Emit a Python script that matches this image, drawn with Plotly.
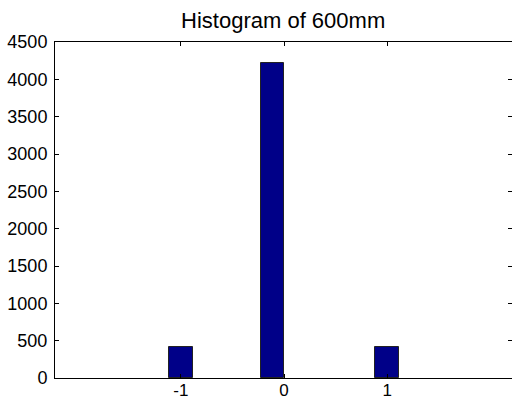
import plotly.graph_objects as go

bin_centers = [-1.0, -0.11, 1.0]
counts = [412, 4218, 412]
x_tick_vals = [-1, 0, 1]
x_tick_text = ["-1", "0", "1"]
y_tick_vals = [0, 500, 1000, 1500, 2000, 2500, 3000, 3500, 4000, 4500]
title_text = "Histogram of 600mm"

fig = go.Figure()
fig.add_trace(go.Bar(
    x=bin_centers, y=counts, width=0.228,
    marker=dict(color="#000088", line=dict(color="#222222", width=1)),
))

fig.update_layout(
    width=512, height=400,
    margin=dict(l=55, r=0, t=42, b=22, pad=0),
    paper_bgcolor="white", plot_bgcolor="white",
    font=dict(family="Liberation Sans, Arial, sans-serif", size=18, color="black"),
    title=dict(text=title_text, x=0.553, xanchor="center", y=0.95, yanchor="middle",
               font=dict(size=22, color="black"), automargin=False),
    showlegend=False,
    bargap=0,
)
fig.update_xaxes(
    range=[-2.22, 2.21], tickvals=x_tick_vals, ticktext=x_tick_text,
    ticks="inside", ticklen=4, tickcolor="black", showline=True, linecolor="black",
    linewidth=1, mirror="ticks", showgrid=False, zeroline=False,
    tickfont=dict(size=17), ticklabelstandoff=-3, automargin=False,
)
fig.update_yaxes(
    range=[0, 4500], tickvals=y_tick_vals,
    ticks="inside", ticklen=4, tickcolor="black", showline=True, linecolor="black",
    linewidth=1, mirror="ticks", showgrid=False, zeroline=False,
    ticklabelstandoff=3, automargin=False,
)
fig.write_html(
    "out.html",
    config={"displayModeBar": False},
    post_script="document.body.style.margin='0';document.body.style.overflow='hidden';",
)
